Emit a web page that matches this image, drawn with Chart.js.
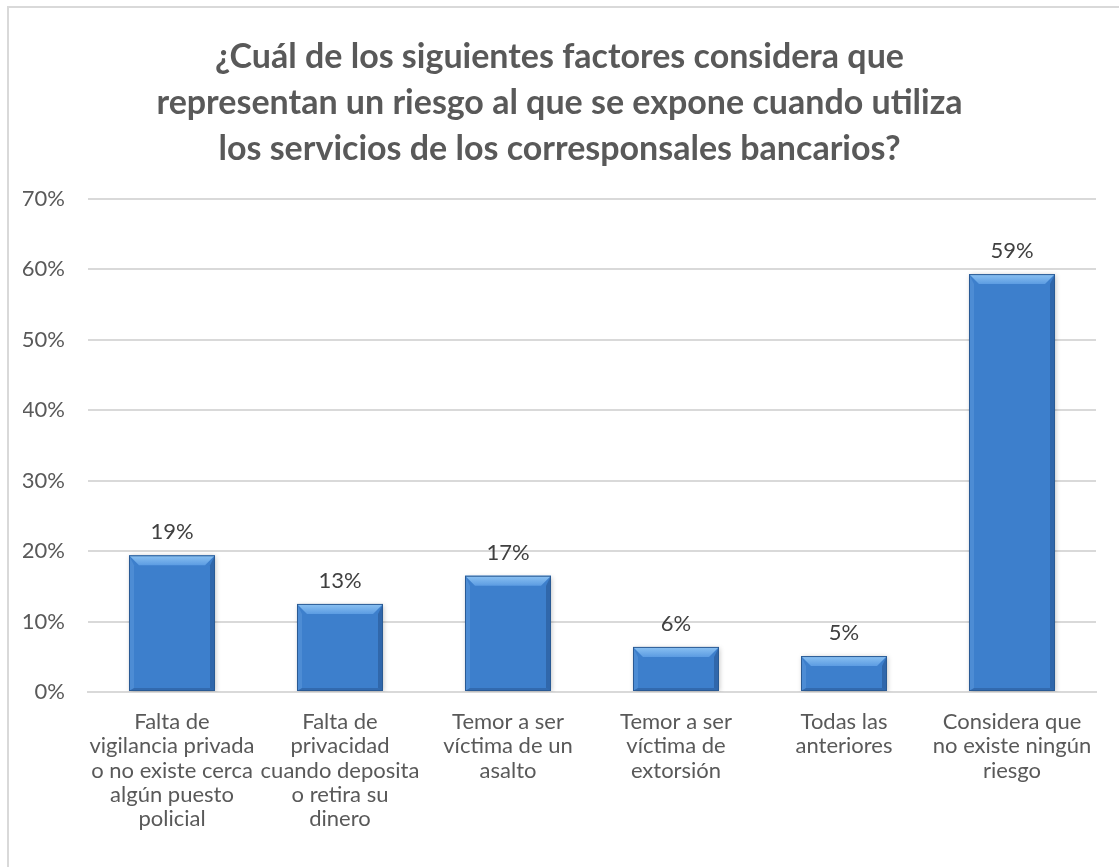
<!DOCTYPE html>
<html>
<head>
<meta charset="utf-8">
<script src="https://cdn.jsdelivr.net/npm/chart.js@4/dist/chart.umd.min.js"></script>
<style>
  html, body { margin: 0; padding: 0; background: #fff; overflow: hidden; }
  .frame {
    position: absolute; left: 7px; top: 6px; right: 0; bottom: 0;
    border-left: 2px solid #d9d9d9; border-top: 2px solid #d9d9d9;
  }
  #chart { position: absolute; left: 0; top: 0; }
</style>
</head>
<body>
<div class="frame"></div>
<canvas id="chart" width="1119" height="867"></canvas>
<script>
const titleLines = [
  "¿Cuál de los siguientes factores considera que",
  "representan un riesgo al que se expone cuando utiliza",
  "los servicios de los corresponsales bancarios?",
];
const categories = [
  ["Falta de", "vigilancia privada", "o no existe cerca", "algún puesto", "policial"],
  ["Falta de", "privacidad", "cuando deposita", "o retira su", "dinero"],
  ["Temor a ser", "víctima de un", "asalto"],
  ["Temor a ser", "víctima de", "extorsión"],
  ["Todas las", "anteriores"],
  ["Considera que", "no existe ningún", "riesgo"],
];
const percentages = [19.4, 12.5, 16.5, 6.4, 5.1, 59.3];
const yTicks = [0, 10, 20, 30, 40, 50, 60, 70];

const textColor = "#595959";
const gridColor = "#d9d9d9";
const fontFamily = "Lato, 'Open Sans', sans-serif";

// horizontal shading across each bar face
function barFill(context) {
  const el = context.element;
  const ctx = context.chart.ctx;
  if (!el || !el.width) return "#3d7fcc";
  const left = el.x - el.width / 2;
  const g = ctx.createLinearGradient(left, 0, left + el.width, 0);
  g.addColorStop(0, "#3a78c2");
  g.addColorStop(0.5, "#4186d2");
  g.addColorStop(1, "#3470b8");
  return g;
}

// soft drop shadow under the bars
const barShadow = {
  id: "barShadow",
  beforeDatasetDraw(chart) {
    const ctx = chart.ctx;
    ctx.save();
    ctx.shadowColor = "rgba(0,0,0,0.25)";
    ctx.shadowBlur = 5;
    ctx.shadowOffsetX = 1;
    ctx.shadowOffsetY = 1;
  },
  afterDatasetDraw(chart) {
    chart.ctx.restore();
  },
};

// bevelled edges + value labels
const bevelAndLabels = {
  id: "bevelAndLabels",
  afterDatasetsDraw(chart) {
    const ctx = chart.ctx;
    const meta = chart.getDatasetMeta(0);
    const values = chart.data.datasets[0].data;
    meta.data.forEach((bar, i) => {
      const l = bar.x - bar.width / 2;
      const r = bar.x + bar.width / 2;
      const t = bar.y;
      const b = bar.base;
      const s = Math.min(10, (b - t) / 3);
      ctx.save();
      // top
      let g = ctx.createLinearGradient(0, t, 0, t + s);
      g.addColorStop(0, "#8cc2f2");
      g.addColorStop(1, "#5c9ce2");
      ctx.fillStyle = g;
      ctx.beginPath();
      ctx.moveTo(l, t); ctx.lineTo(r, t); ctx.lineTo(r - s, t + s); ctx.lineTo(l + s, t + s);
      ctx.closePath(); ctx.fill();
      // left
      ctx.fillStyle = "rgba(110,165,225,0.35)";
      ctx.beginPath();
      ctx.moveTo(l, t); ctx.lineTo(l + s * 0.5, t + s); ctx.lineTo(l + s * 0.5, b - s * 0.3); ctx.lineTo(l, b);
      ctx.closePath(); ctx.fill();
      // right
      ctx.fillStyle = "rgba(25,60,110,0.35)";
      ctx.beginPath();
      ctx.moveTo(r, t); ctx.lineTo(r - s * 0.5, t + s); ctx.lineTo(r - s * 0.5, b - s * 0.3); ctx.lineTo(r, b);
      ctx.closePath(); ctx.fill();
      // bottom
      ctx.fillStyle = "rgba(25,60,110,0.3)";
      ctx.beginPath();
      ctx.moveTo(l, b); ctx.lineTo(r, b); ctx.lineTo(r - s * 0.5, b - s * 0.3); ctx.lineTo(l + s * 0.5, b - s * 0.3);
      ctx.closePath(); ctx.fill();
      // outline
      ctx.strokeStyle = "#2a5a94";
      ctx.lineWidth = 1;
      ctx.strokeRect(l + 0.5, t + 0.5, bar.width - 1, b - t - 1);
      ctx.restore();

      ctx.save();
      ctx.fillStyle = "#404040";
      ctx.font = "22px " + fontFamily;
      ctx.textAlign = "center";
      ctx.textBaseline = "middle";
      ctx.fillText(Math.round(values[i]) + "%", bar.x, t - 23);
      ctx.restore();
    });
  },
};

new Chart(document.getElementById("chart"), {
  type: "bar",
  data: {
    labels: categories,
    datasets: [
      {
        data: percentages,
        backgroundColor: barFill,
        borderWidth: 0,
        barPercentage: 1,
        categoryPercentage: 0.512,
      },
    ],
  },
  plugins: [barShadow, bevelAndLabels],
  options: {
    responsive: false,
    animation: false,
    // equal side padding keeps the title centred on the page
    layout: { padding: { left: 23, right: 23, top: 8, bottom: 18 } },
    plugins: {
      legend: { display: false },
      tooltip: { enabled: false },
      title: {
        display: true,
        text: titleLines,
        color: textColor,
        font: { family: fontFamily, size: 34, weight: "bold", lineHeight: 1.35 },
        padding: { top: 26, bottom: 27 },
      },
    },
    scales: {
      x: {
        grid: { display: false, drawTicks: false },
        border: { display: true, color: gridColor, width: 2 },
        ticks: {
          color: textColor,
          font: { family: fontFamily, size: 22, lineHeight: 1.1 },
          padding: 18,
          autoSkip: false,
          maxRotation: 0,
          minRotation: 0,
        },
      },
      y: {
        min: 0,
        max: 70,
        afterFit(scale) { scale.width = 65; },
        afterBuildTicks(scale) { scale.ticks = yTicks.map((v) => ({ value: v })); },
        grid: { color: gridColor, lineWidth: 2, drawTicks: false },
        border: { display: false },
        ticks: {
          color: textColor,
          font: { family: fontFamily, size: 22 },
          padding: 23,
          callback: (v) => v + "%",
        },
      },
    },
  },
});
</script>
</body>
</html>
